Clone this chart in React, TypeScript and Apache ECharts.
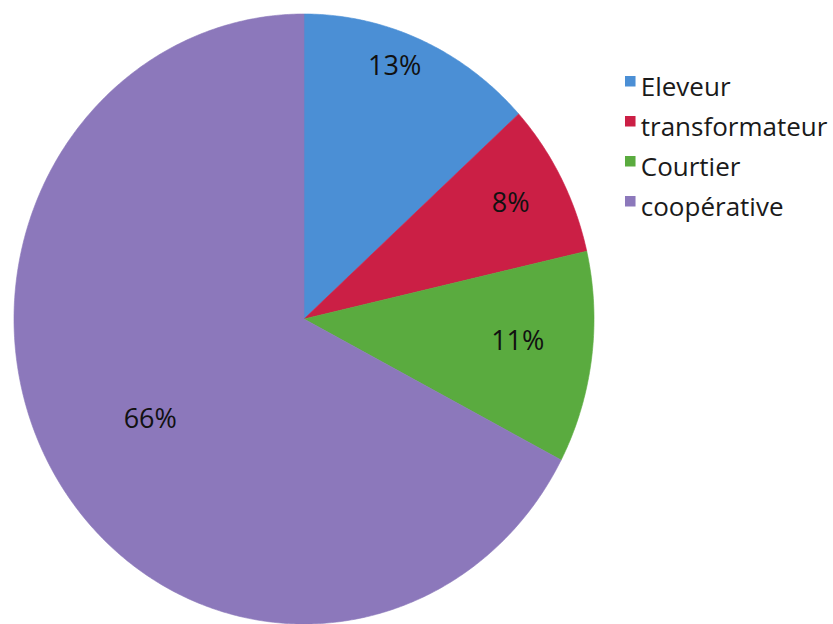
import React, { useEffect, useRef } from 'react';
import * as echarts from 'echarts';

// ---- data ----
const categories: string[] = ['Eleveur', 'transformateur', 'Courtier', 'coopérative'];
const values: number[] = [13, 8, 11, 66];

// ---- style ----
const colors: string[] = ['#4b8fd5', '#cb1f45', '#5aab3f', '#8c78bb'];
const labelRadius: number[] = [0.89, 0.81, 0.74, 0.62];
const labelAngleShift: number[] = [-3.3, -0.8, -2.2, 0];
const CX = 304;
const CY = 319;
const RX = 290;
const RY = 305;

export default function App() {
  const ref = useRef<HTMLDivElement>(null);
  useEffect(() => {
    const chart = echarts.init(ref.current!, null, { renderer: 'svg' });
    const total = values.reduce((a, b) => a + b, 0);
    const cum = values.map((_, i) => values.slice(0, i).reduce((a, b) => a + b, 0));
    const series = categories.map((name, i) => ({
      type: 'custom',
      name,
      coordinateSystem: 'none',
      data: [values[i]],
      itemStyle: { color: colors[i] },
      renderItem: (params: any, api: any) => {
        const v = api.value(0);
        const a0 = (cum[i] / total) * 360;
        const a1 = a0 + (v / total) * 360;
        const pts: number[][] = [[CX, CY]];
        const n = Math.max(8, Math.ceil((a1 - a0) / 0.5));
        for (let k = 0; k <= n; k++) {
          const t = ((a0 + ((a1 - a0) * k) / n) * Math.PI) / 180;
          pts.push([CX + RX * Math.sin(t), CY - RY * Math.cos(t)]);
        }
        const am = (((a0 + a1) / 2 + labelAngleShift[i]) * Math.PI) / 180;
        const lr = labelRadius[i];
        const col = api.visual('color');
        return {
          type: 'group',
          children: [
            {
              type: 'polygon',
              shape: { points: pts },
              style: { fill: col, stroke: col, lineWidth: 0.6 },
            },
            {
              type: 'text',
              x: CX + RX * lr * Math.sin(am),
              y: CY - RY * lr * Math.cos(am),
              style: {
                text: `${v}%`,
                fill: '#111',
                fontSize: 27,
                fontFamily: 'Open Sans',
                align: 'center',
                verticalAlign: 'middle',
              },
            },
          ],
        };
      },
    }));
    chart.setOption({
      animation: false,
      backgroundColor: '#ffffff',
      color: colors,
      legend: {
        data: categories,
        orient: 'vertical',
        left: 620,
        top: 68,
        icon: 'path://M0,0h10v10h-10zM0,19h10',
        itemWidth: 11,
        itemHeight: 20,
        itemGap: 14,
        textStyle: { fontSize: 26, fontFamily: 'Open Sans', color: '#1a1a1a', padding: [0, 0, 0, 0] },
      },
      series,
    } as any);
    return () => chart.dispose();
  }, []);
  return (
    <div
      ref={ref}
      style={{ position: 'fixed', left: 0, top: 0, width: 833, height: 624, background: '#fff' }}
    />
  );
}
